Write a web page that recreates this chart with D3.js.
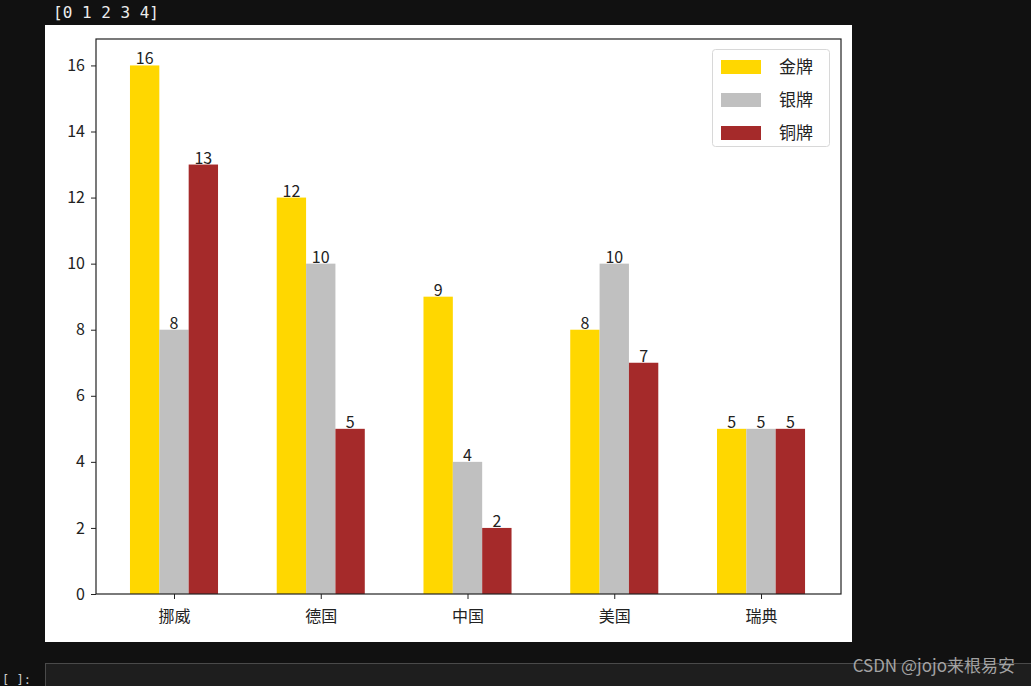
<!DOCTYPE html>
<html><head><meta charset="utf-8">
<script src="https://cdn.jsdelivr.net/npm/d3@7"></script>
<style>
html,body{margin:0;padding:0;background:#111111;}
svg{display:block;}
</style></head>
<body>
<svg id="c" width="1031" height="686"></svg>
<script>
const countries = ["挪威","德国","中国","美国","瑞典"];
const gold   = [16,12,9,8,5];
const silver = [8,10,4,10,5];
const bronze = [13,5,2,7,5];
const seriesNames  = ["金牌","银牌","铜牌"];
const seriesColors = ["#FFD700","#C0C0C0","#A52A2A"];
const yTicks = [0,2,4,6,8,10,12,14,16];

const series = [gold, silver, bronze];
const offsets = [-0.2, 0, 0.2];
const barW = 0.2;

const svg = d3.select("#c");
const font = "'Noto Sans CJK SC','DejaVu Sans',sans-serif";

// notebook output text
svg.append("text").attr("x",53).attr("y",18)
  .attr("fill","#ececec").attr("font-family","'DejaVu Sans Mono',monospace")
  .attr("font-size",16).text("[0 1 2 3 4]");

// figure background
svg.append("rect").attr("x",45).attr("y",25).attr("width",807).attr("height",617).attr("fill","#ffffff");

// next input cell
svg.append("rect").attr("x",45.5).attr("y",663.5).attr("width",1000).attr("height",40)
  .attr("fill","#1e1e1e").attr("stroke","#4a4a4a");
svg.append("text").attr("x",2).attr("y",684).attr("fill","#cccccc")
  .attr("font-family","'DejaVu Sans Mono',monospace").attr("font-size",12).text("[ ]:");

const L=96, R=841, T=39, B=594;
const x = d3.scaleLinear().domain([-0.5315, 4.545]).range([L, R]);
const y = d3.scaleLinear().domain([0, 16.8]).range([B, T]);

const g = svg.append("g");
series.forEach((vals, si) => {
  g.selectAll(null).data(vals).enter().append("rect")
    .attr("x",(d,i)=>x(i+offsets[si]-barW/2))
    .attr("width",(d,i)=>x(i+offsets[si]+barW/2)-x(i+offsets[si]-barW/2))
    .attr("y",d=>y(d)).attr("height",d=>y(0)-y(d))
    .attr("fill",seriesColors[si]);
  g.selectAll(null).data(vals).enter().append("text")
    .attr("x",(d,i)=>x(i+offsets[si]))
    .attr("y",d=>y(d)-1)
    .attr("text-anchor","middle")
    .attr("font-family",font).attr("font-size",16).attr("fill","#222")
    .text(d=>d);
});

// axes
const yAxis = d3.axisLeft(y).tickValues(yTicks).tickSize(5).tickPadding(6);
const ya = svg.append("g").attr("transform",`translate(${L},0)`).call(yAxis);
ya.select(".domain").remove();
ya.selectAll("text").attr("font-family",font).attr("font-size",16).attr("fill","#222");
ya.selectAll("line").attr("stroke","#222");

const xAxis = d3.axisBottom(x).tickValues(d3.range(countries.length)).tickFormat(i=>countries[i]).tickSize(5).tickPadding(8);
const xa = svg.append("g").attr("transform",`translate(0,${B})`).call(xAxis);
xa.select(".domain").remove();
xa.selectAll("text").attr("font-family",font).attr("font-size",16).attr("fill","#222").attr("dy","0.95em");
xa.selectAll("line").attr("stroke","#222");

svg.append("rect").attr("x",L).attr("y",T).attr("width",R-L).attr("height",B-T)
  .attr("fill","none").attr("stroke","#222").attr("stroke-width",1.2);

// legend
const lg = svg.append("g");
lg.append("rect").attr("x",712.5).attr("y",49.5).attr("width",117).attr("height",97).attr("rx",3)
  .attr("fill","#ffffff").attr("stroke","#d8d8d8");
seriesNames.forEach((n,i)=>{
  const cy = 67 + i*33;
  lg.append("rect").attr("x",721).attr("y",cy-7).attr("width",40).attr("height",14).attr("fill",seriesColors[i]);
  lg.append("text").attr("x",779).attr("y",cy+6).attr("font-family",font).attr("font-size",17)
    .attr("fill","#222").text(n);
});

// watermark
svg.append("text").attr("x",1015).attr("y",672).attr("text-anchor","end")
  .attr("font-family",font).attr("font-size",17).attr("fill","#bbbbbb").attr("opacity",0.85)
  .text("CSDN @jojo来根易安");
</script>
</body></html>
